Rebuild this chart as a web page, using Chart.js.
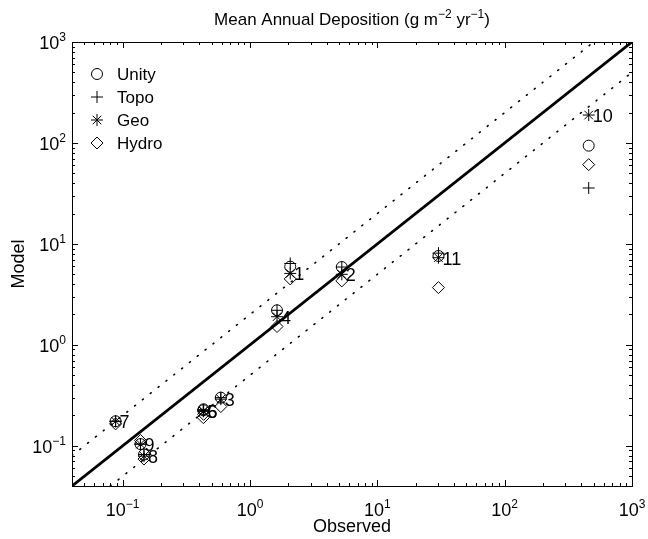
<!DOCTYPE html>
<html><head><meta charset="utf-8">
<script src="https://cdn.jsdelivr.net/npm/chart.js@4/dist/chart.umd.min.js"></script>
<style>html,body{margin:0;padding:0;background:#fff;}</style>
</head><body>
<canvas id="c" width="648" height="539"></canvas>
<script>
// ---- data ----
const siteLabels = ['1','2','3','4','5','6','7','8','9','10','11'];
const observed = [2.07, 5.26, 0.59, 1.63, 0.43, 0.432, 0.088, 0.147, 0.138, 457, 30.2];
const unity    = [5.95, 5.9, 0.30, 2.2, 0.225, 0.23, 0.175, 0.082, 0.104, 94, 7.6];
const topo     = [6.4, 5.9, 0.30, 2.2, 0.225, 0.228, 0.175, 0.082, 0.104, 35.8, 8.1];
const geo      = [5.1, 5.0, 0.29, 1.9, 0.22, 0.221, 0.175, 0.079, 0.104, 189, 7.3];
const hydro    = [4.5, 4.3, 0.245, 1.52, 0.19, 0.205, 0.165, 0.074, 0.113, 61, 3.69];
const seriesNames = ['Unity','Topo','Geo','Hydro'];
const axisRange = [0.04, 1000];
const tickExponents = [-1, 0, 1, 2, 3];
const bandFactor = 2;
const titleParts = [['Mean Annual Deposition (g m',0],['\u22122',1],[' yr',0],['\u22121',1],[')',0]];
const xTitle = 'Observed';
const yTitle = 'Model';

const FONT = '"Liberation Sans", Arial, Helvetica, sans-serif';
const lo = axisRange[0], hi = axisRange[1];
const oneToOne = [{x:lo,y:lo},{x:hi,y:hi}];
const upperBand = [{x:lo,y:lo*bandFactor},{x:hi/bandFactor,y:hi}];
const lowerBand = [{x:lo*bandFactor,y:lo},{x:hi,y:hi/bandFactor}];

const pts = arr => observed.map((o,i)=>({x:o,y:arr[i]}));
const styles = ['circle','cross','star','rectRot'];
const radii = [5.5, 6, 6, 6];
const seriesData = [unity, topo, geo, hydro];

function markerDs(i){
  return {label: seriesNames[i], data: pts(seriesData[i]), pointStyle: styles[i],
    pointRadius: radii[i], pointBorderColor:'#000', pointBackgroundColor:'rgba(0,0,0,0)',
    borderColor:'#000', backgroundColor:'rgba(0,0,0,0)', pointBorderWidth:1, showLine:false};
}
function lineDs(data, w, dash){
  return {label:'', data, showLine:true, borderColor:'#000', borderWidth:w, borderDash:dash,
    pointRadius:0, fill:false, borderCapStyle: dash.length ? 'round':'butt'};
}

function supText(ctx, parts, size, supSize){
  let w = 0;
  for (const [t,s] of parts){ ctx.font = (s?supSize:size)+'px '+FONT; w += ctx.measureText(t).width; }
  return w;
}
function drawParts(ctx, parts, x, y, size, supSize, rise){
  let cx = x;
  for (const [t,s] of parts){
    ctx.font = (s?supSize:size)+'px '+FONT;
    ctx.fillText(t, cx, s ? y - rise : y);
    cx += ctx.measureText(t).width;
  }
}
function drawMarker(ctx, style, x, y, r){
  ctx.beginPath();
  if (style==='circle'){ ctx.arc(x,y,r,0,Math.PI*2); }
  else if (style==='cross'){ ctx.moveTo(x-r,y); ctx.lineTo(x+r,y); ctx.moveTo(x,y-r); ctx.lineTo(x,y+r); }
  else if (style==='star'){
    ctx.moveTo(x-r,y); ctx.lineTo(x+r,y); ctx.moveTo(x,y-r); ctx.lineTo(x,y+r);
    const d = r*Math.SQRT1_2;
    ctx.moveTo(x-d,y-d); ctx.lineTo(x+d,y+d); ctx.moveTo(x-d,y+d); ctx.lineTo(x+d,y-d);
  }
  else if (style==='rectRot'){ ctx.moveTo(x,y-r); ctx.lineTo(x+r,y); ctx.lineTo(x,y+r); ctx.lineTo(x-r,y); ctx.closePath(); }
  ctx.stroke();
}

const decor = {
  id:'decor',
  afterDraw(chart){
    const {ctx, chartArea:a, scales:{x, y}} = chart;
    ctx.save();
    ctx.strokeStyle = '#000'; ctx.fillStyle = '#000'; ctx.lineWidth = 1;
    ctx.strokeRect(Math.round(a.left)+0.5, Math.round(a.top)+0.5, Math.round(a.right-a.left), Math.round(a.bottom-a.top));
    const minor = [], major = [];
    for (let e = -2; e <= 3; e++){
      for (let m = 1; m <= 9; m++){
        const v = m*Math.pow(10,e);
        if (v < lo*0.999 || v > hi*1.001) continue;
        (m===1 ? major : minor).push(v);
      }
    }
    ctx.beginPath();
    const tick = (v, len) => {
      const px = Math.round(x.getPixelForValue(v))+0.5;
      ctx.moveTo(px, a.bottom); ctx.lineTo(px, a.bottom-len);
      ctx.moveTo(px, a.top); ctx.lineTo(px, a.top+len);
      const py = Math.round(y.getPixelForValue(v))+0.5;
      ctx.moveTo(a.left, py); ctx.lineTo(a.left+len, py);
      ctx.moveTo(a.right, py); ctx.lineTo(a.right-len, py);
    };
    minor.forEach(v=>tick(v,3)); major.forEach(v=>tick(v,6));
    ctx.stroke();
    ctx.textBaseline = 'alphabetic';
    tickExponents.forEach(e=>{
      const v = Math.pow(10,e);
      const parts = [['10',0],[String(e).replace('-','\u2212'),1]];
      const w = supText(ctx, parts, 18, 12);
      const px = x.getPixelForValue(v);
      drawParts(ctx, parts, px - w/2, a.bottom + 30, 18, 12, 8);
      const py = y.getPixelForValue(v);
      drawParts(ctx, parts, a.left - 6 - w, py + 7, 18, 12, 8);
    });
    ctx.textBaseline = 'alphabetic';
    const tw = supText(ctx, titleParts, 17, 12);
    drawParts(ctx, titleParts, (a.left+a.right)/2 - tw/2, 25, 17, 12, 7);
    ctx.font = '18px '+FONT; ctx.textAlign = 'center';
    ctx.fillText(xTitle, (a.left+a.right)/2, 532);
    ctx.save(); ctx.translate(24, (a.top+a.bottom)/2); ctx.rotate(-Math.PI/2);
    ctx.fillText(yTitle, 0, 0); ctx.restore();
    ctx.textAlign = 'left'; ctx.textBaseline = 'middle'; ctx.font = '18px '+FONT;
    siteLabels.forEach((s,i)=>{
      const px = x.getPixelForValue(observed[i]) + 4;
      const py = y.getPixelForValue(geo[i]) + 2;
      ctx.fillText(s, px, py);
    });
    const lx = 97, ly0 = 74, dy = 23;
    seriesNames.forEach((n,i)=>{
      drawMarker(ctx, styles[i], lx, ly0 + i*dy, radii[i]);
      ctx.font = '17px '+FONT; ctx.textBaseline = 'middle';
      ctx.fillText(n, lx + 20, ly0 + i*dy + 1);
    });
    ctx.restore();
  }
};

new Chart(document.getElementById('c'), {
  type:'scatter',
  data:{datasets:[
    markerDs(0), markerDs(1), markerDs(2), markerDs(3),
    lineDs(oneToOne, 2.8, []),
    lineDs(upperBand, 1.6, [1, 9]),
    lineDs(lowerBand, 1.6, [1, 9])
  ]},
  options:{
    responsive:false, animation:false, devicePixelRatio:1,
    layout:{padding:{left:72,right:16,top:42,bottom:53}},
    scales:{
      x:{type:'logarithmic', min:lo, max:hi, display:false},
      y:{type:'logarithmic', min:lo, max:hi, display:false}
    },
    plugins:{legend:{display:false}, tooltip:{enabled:false}}
  },
  plugins:[decor]
});
</script>
</body></html>
